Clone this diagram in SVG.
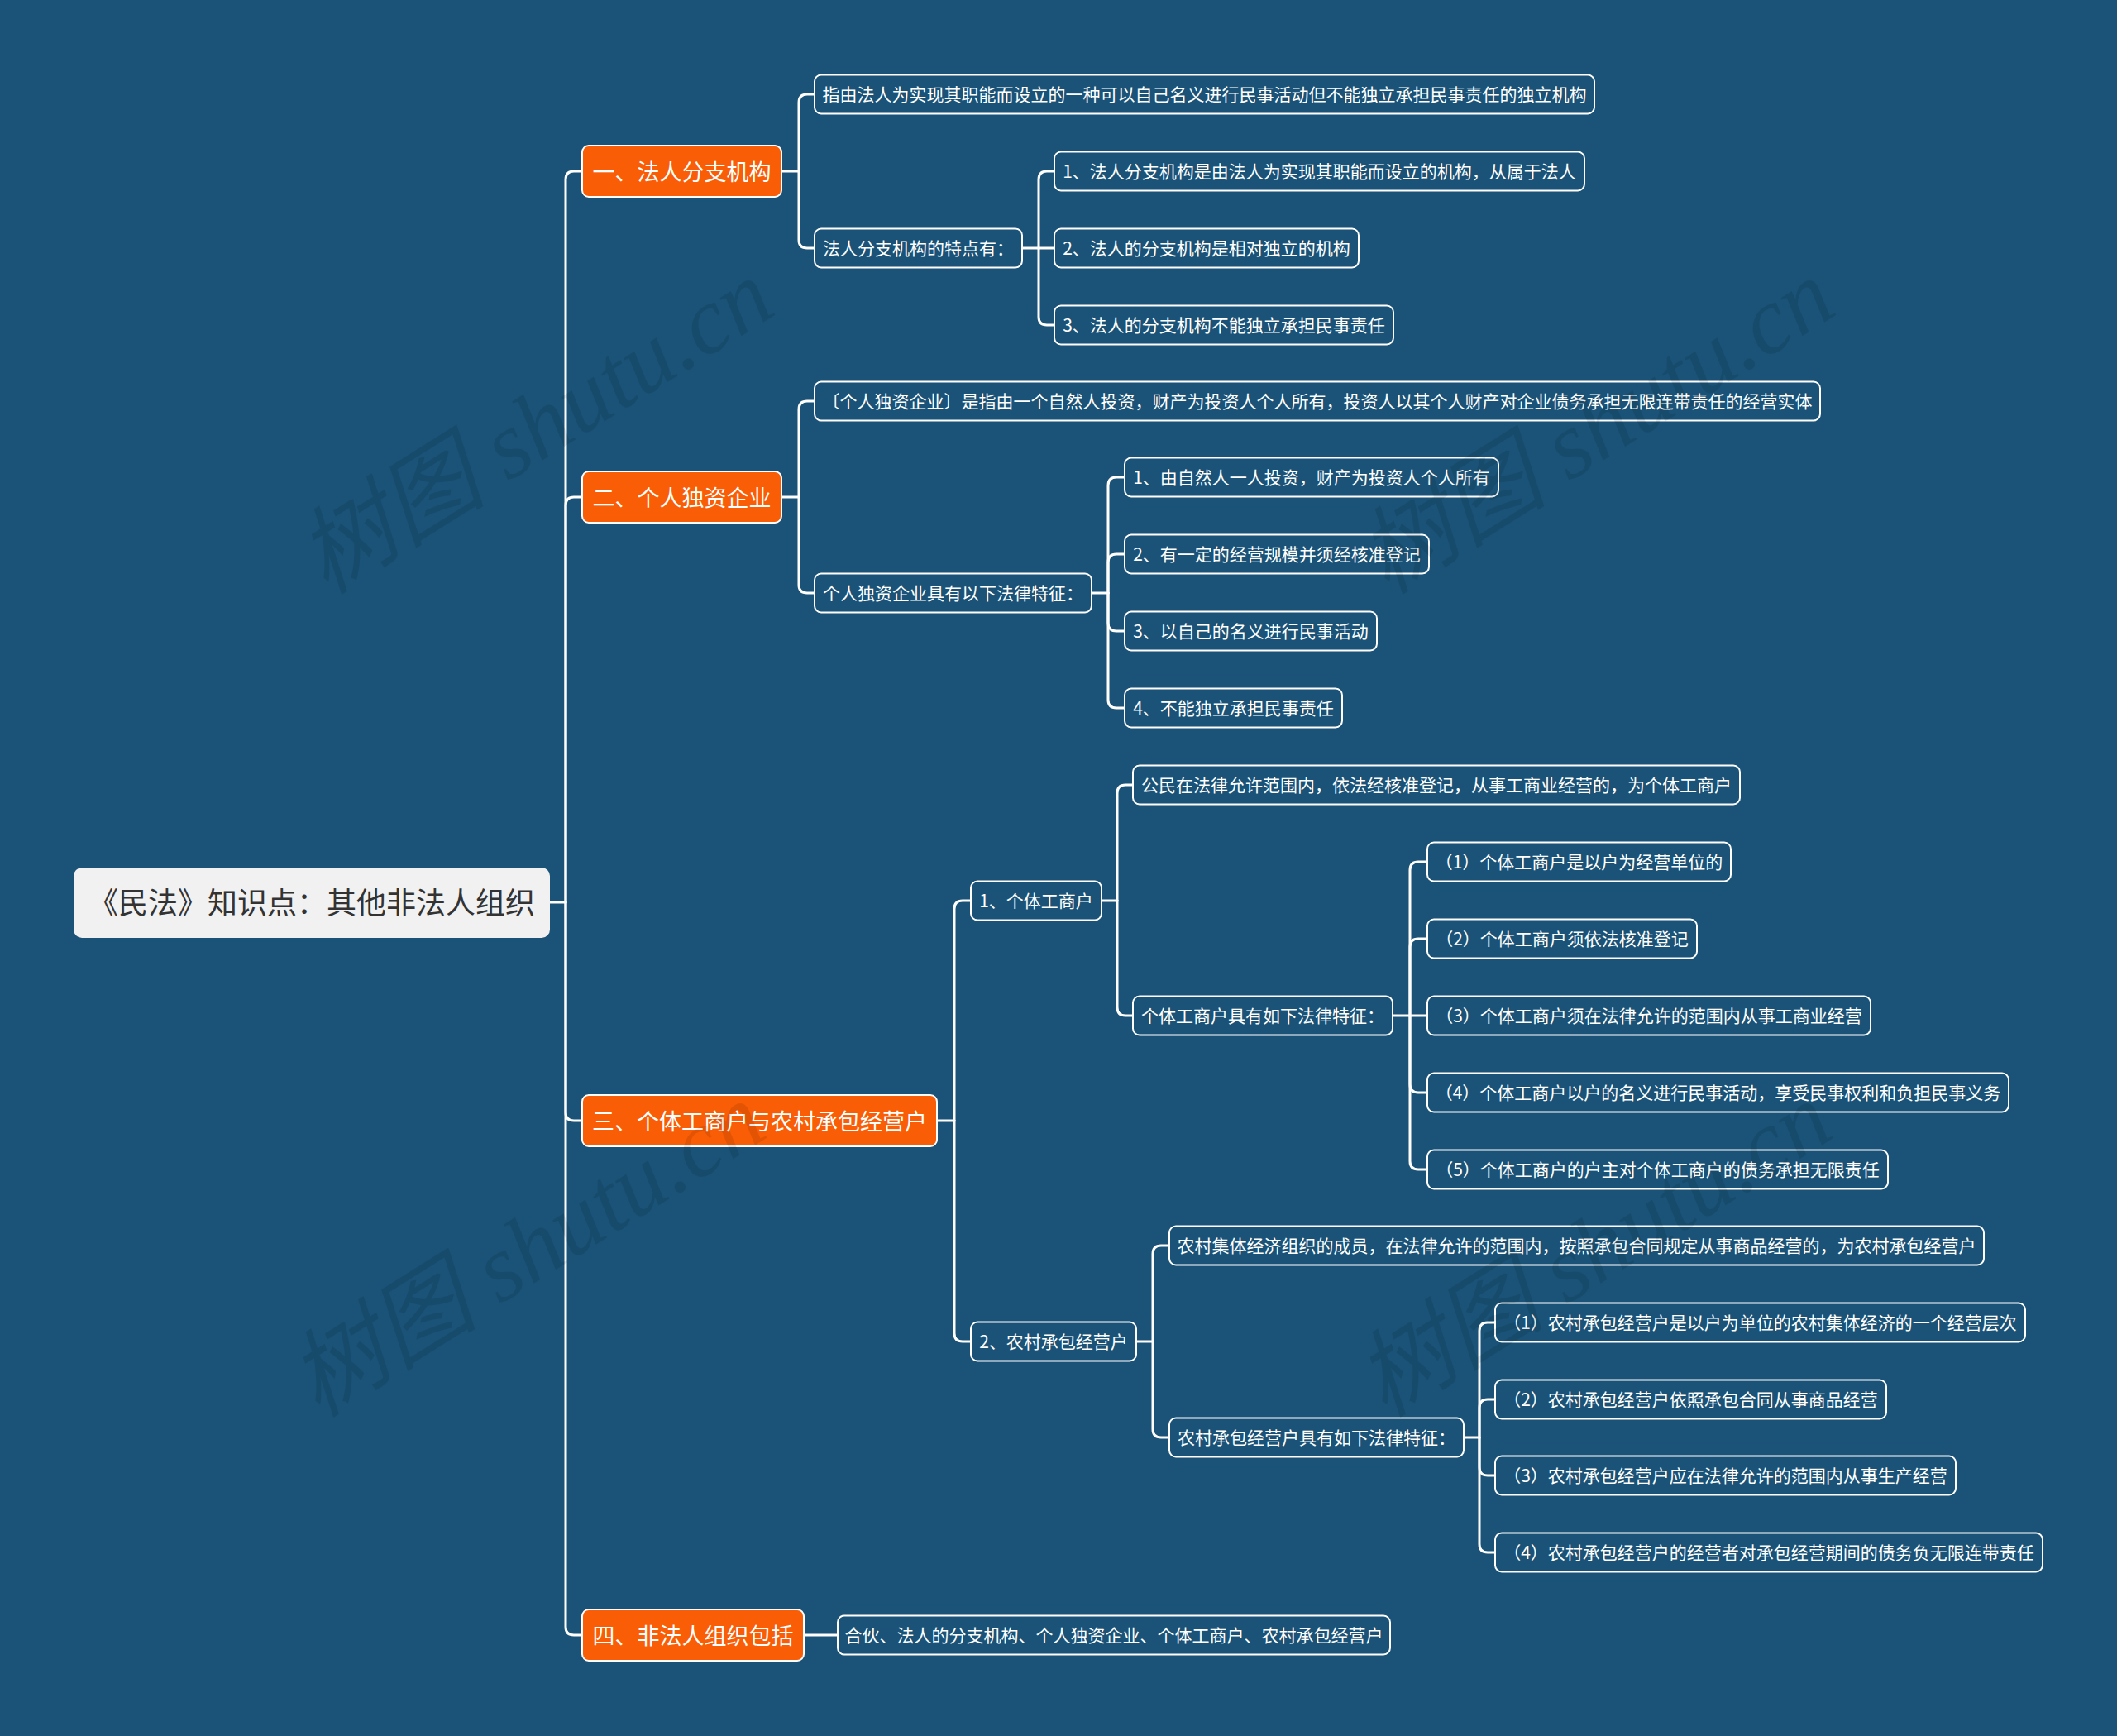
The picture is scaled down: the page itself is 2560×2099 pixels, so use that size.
<svg xmlns="http://www.w3.org/2000/svg" width="2560" height="2099" viewBox="0 0 2560 2099">
<style>
.bg{fill:#1a5377}
.root rect{fill:#f1f1f1}
.root text{fill:#333333;font-size:36px}
.br rect{fill:#f95d05;stroke:#ffffff;stroke-width:2}
.br text{fill:#ffffff;font-size:27px}
.nd rect{fill:#1a5377;stroke:#ffffff;stroke-width:2}
.nd text{fill:#ffffff;font-size:21px}
text{font-family:"Noto Sans CJK SC","Microsoft YaHei",sans-serif;text-anchor:middle}
.links path{fill:none;stroke:#ffffff;stroke-width:3;stroke-linecap:round;stroke-linejoin:round}
.wm text{font-family:"Liberation Serif","Noto Sans CJK SC",serif;font-style:italic;font-size:115px;fill:#000000;fill-opacity:0.09}
</style>
<rect class="bg" x="0" y="0" width="2560" height="2099"/>
<g class="links">
<path d="M665,1091 H684"/>
<path d="M684,1091 V217 Q684,207 694,207 H704"/>
<path d="M684,1091 V611 Q684,601 694,601 H704"/>
<path d="M684,1091 V1345 Q684,1355 694,1355 H704"/>
<path d="M684,1091 V1967 Q684,1977 694,1977 H704"/>
<path d="M945,207 H966"/>
<path d="M966,207 V124 Q966,114 976,114 H985"/>
<path d="M966,207 V290 Q966,300 976,300 H985"/>
<path d="M1236,300 H1275"/>
<path d="M1256,300 V217 Q1256,207 1266,207 H1275"/>
<path d="M1256,300 V383 Q1256,393 1266,393 H1275"/>
<path d="M945,601 H966"/>
<path d="M966,601 V495 Q966,485 976,485 H985"/>
<path d="M966,601 V707 Q966,717 976,717 H985"/>
<path d="M1320,717 H1340"/>
<path d="M1340,717 V587 Q1340,577 1350,577 H1360"/>
<path d="M1340,717 V680 Q1340,670 1350,670 H1360"/>
<path d="M1340,717 V753 Q1340,763 1350,763 H1360"/>
<path d="M1340,717 V846 Q1340,856 1350,856 H1360"/>
<path d="M1133,1355 H1154"/>
<path d="M1154,1355 V1099 Q1154,1089 1164,1089 H1174"/>
<path d="M1154,1355 V1612 Q1154,1622 1164,1622 H1174"/>
<path d="M1332,1089 H1351"/>
<path d="M1351,1089 V959 Q1351,949 1361,949 H1370"/>
<path d="M1351,1089 V1218 Q1351,1228 1361,1228 H1370"/>
<path d="M1684,1228 H1726"/>
<path d="M1705,1228 V1052 Q1705,1042 1715,1042 H1726"/>
<path d="M1705,1228 V1145 Q1705,1135 1715,1135 H1726"/>
<path d="M1705,1228 V1311 Q1705,1321 1715,1321 H1726"/>
<path d="M1705,1228 V1404 Q1705,1414 1715,1414 H1726"/>
<path d="M1374,1622 H1394"/>
<path d="M1394,1622 V1516 Q1394,1506 1404,1506 H1414"/>
<path d="M1394,1622 V1728 Q1394,1738 1404,1738 H1414"/>
<path d="M1770,1738 H1789"/>
<path d="M1789,1738 V1609 Q1789,1599 1799,1599 H1808"/>
<path d="M1789,1738 V1702 Q1789,1692 1799,1692 H1808"/>
<path d="M1789,1738 V1774 Q1789,1784 1799,1784 H1808"/>
<path d="M1789,1738 V1867 Q1789,1877 1799,1877 H1808"/>
<path d="M972,1977 H1013"/>
</g>
<g id="root" class="root"><rect x="89" y="1049" width="576" height="85" rx="10"/><text x="377" y="1105">《民法》知识点：其他非法人组织</text></g>
<g id="b1" class="br"><rect x="704" y="176" width="241" height="62" rx="8"/><text x="824.5" y="217.5">一、法人分支机构</text></g>
<g id="b2" class="br"><rect x="704" y="570" width="241" height="62" rx="8"/><text x="824.5" y="611.5">二、个人独资企业</text></g>
<g id="b3" class="br"><rect x="704" y="1324" width="429" height="62" rx="8"/><text x="918.5" y="1365.5">三、个体工商户与农村承包经营户</text></g>
<g id="b4" class="br"><rect x="704" y="1946" width="268" height="62" rx="8"/><text x="838" y="1987.5">四、非法人组织包括</text></g>
<g id="n1a" class="nd"><rect x="985" y="90.5" width="943" height="47" rx="8"/><text x="1456.5" y="122">指由法人为实现其职能而设立的一种可以自己名义进行民事活动但不能独立承担民事责任的独立机构</text></g>
<g id="n1b" class="nd"><rect x="985" y="276.5" width="251" height="47" rx="8"/><text x="1110.5" y="308">法人分支机构的特点有：</text></g>
<g id="n1b1" class="nd"><rect x="1275" y="183.5" width="641" height="47" rx="8"/><text x="1595.5" y="215">1、法人分支机构是由法人为实现其职能而设立的机构，从属于法人</text></g>
<g id="n1b2" class="nd"><rect x="1275" y="276.5" width="368" height="47" rx="8"/><text x="1459" y="308">2、法人的分支机构是相对独立的机构</text></g>
<g id="n1b3" class="nd"><rect x="1275" y="369.5" width="410" height="47" rx="8"/><text x="1480" y="401">3、法人的分支机构不能独立承担民事责任</text></g>
<g id="n2a" class="nd"><rect x="985" y="461.5" width="1216" height="47" rx="8"/><text x="1593" y="493">〔个人独资企业〕是指由一个自然人投资，财产为投资人个人所有，投资人以其个人财产对企业债务承担无限连带责任的经营实体</text></g>
<g id="n2b" class="nd"><rect x="985" y="693.5" width="335" height="47" rx="8"/><text x="1152.5" y="725">个人独资企业具有以下法律特征：</text></g>
<g id="n2b1" class="nd"><rect x="1360" y="553.5" width="452" height="47" rx="8"/><text x="1586" y="585">1、由自然人一人投资，财产为投资人个人所有</text></g>
<g id="n2b2" class="nd"><rect x="1360" y="646.5" width="368" height="47" rx="8"/><text x="1544" y="678">2、有一定的经营规模并须经核准登记</text></g>
<g id="n2b3" class="nd"><rect x="1360" y="739.5" width="305" height="47" rx="8"/><text x="1512.5" y="771">3、以自己的名义进行民事活动</text></g>
<g id="n2b4" class="nd"><rect x="1360" y="832.5" width="263" height="47" rx="8"/><text x="1491.5" y="864">4、不能独立承担民事责任</text></g>
<g id="n3a" class="nd"><rect x="1174" y="1065.5" width="158" height="47" rx="8"/><text x="1253" y="1097">1、个体工商户</text></g>
<g id="n3a1" class="nd"><rect x="1370" y="925.5" width="734" height="47" rx="8"/><text x="1737" y="957">公民在法律允许范围内，依法经核准登记，从事工商业经营的，为个体工商户</text></g>
<g id="n3a2" class="nd"><rect x="1370" y="1204.5" width="314" height="47" rx="8"/><text x="1527" y="1236">个体工商户具有如下法律特征：</text></g>
<g id="n3a21" class="nd"><rect x="1726" y="1018.5" width="367" height="47" rx="8"/><text x="1909.5" y="1050">（1）个体工商户是以户为经营单位的</text></g>
<g id="n3a22" class="nd"><rect x="1726" y="1111.5" width="326" height="47" rx="8"/><text x="1889" y="1143">（2）个体工商户须依法核准登记</text></g>
<g id="n3a23" class="nd"><rect x="1726" y="1204.5" width="536" height="47" rx="8"/><text x="1994" y="1236">（3）个体工商户须在法律允许的范围内从事工商业经营</text></g>
<g id="n3a24" class="nd"><rect x="1726" y="1297.5" width="703" height="47" rx="8"/><text x="2077.5" y="1329">（4）个体工商户以户的名义进行民事活动，享受民事权利和负担民事义务</text></g>
<g id="n3a25" class="nd"><rect x="1726" y="1390.5" width="557" height="47" rx="8"/><text x="2004.5" y="1422">（5）个体工商户的户主对个体工商户的债务承担无限责任</text></g>
<g id="n3b" class="nd"><rect x="1174" y="1598.5" width="200" height="47" rx="8"/><text x="1274" y="1630">2、农村承包经营户</text></g>
<g id="n3b1" class="nd"><rect x="1414" y="1482.5" width="985" height="47" rx="8"/><text x="1906.5" y="1514">农村集体经济组织的成员，在法律允许的范围内，按照承包合同规定从事商品经营的，为农村承包经营户</text></g>
<g id="n3b2" class="nd"><rect x="1414" y="1714.5" width="356" height="47" rx="8"/><text x="1592" y="1746">农村承包经营户具有如下法律特征：</text></g>
<g id="n3b21" class="nd"><rect x="1808" y="1575.5" width="641" height="47" rx="8"/><text x="2128.5" y="1607">（1）农村承包经营户是以户为单位的农村集体经济的一个经营层次</text></g>
<g id="n3b22" class="nd"><rect x="1808" y="1668.5" width="473" height="47" rx="8"/><text x="2044.5" y="1700">（2）农村承包经营户依照承包合同从事商品经营</text></g>
<g id="n3b23" class="nd"><rect x="1808" y="1760.5" width="557" height="47" rx="8"/><text x="2086.5" y="1792">（3）农村承包经营户应在法律允许的范围内从事生产经营</text></g>
<g id="n3b24" class="nd"><rect x="1808" y="1853.5" width="662" height="47" rx="8"/><text x="2139" y="1885">（4）农村承包经营户的经营者对承包经营期间的债务负无限连带责任</text></g>
<g id="n4a" class="nd"><rect x="1013" y="1953.5" width="668" height="47" rx="8"/><text x="1347" y="1985">合伙、法人的分支机构、个人独资企业、个体工商户、农村承包经营户</text></g>
<g class="wm">
<text x="647" y="555" transform="rotate(-32 647 515)">树图 shutu.cn</text>
<text x="1930" y="555" transform="rotate(-32 1930 515)">树图 shutu.cn</text>
<text x="637" y="1550" transform="rotate(-32 637 1510)">树图 shutu.cn</text>
<text x="1927" y="1550" transform="rotate(-32 1927 1510)">树图 shutu.cn</text>
</g>
</svg>
